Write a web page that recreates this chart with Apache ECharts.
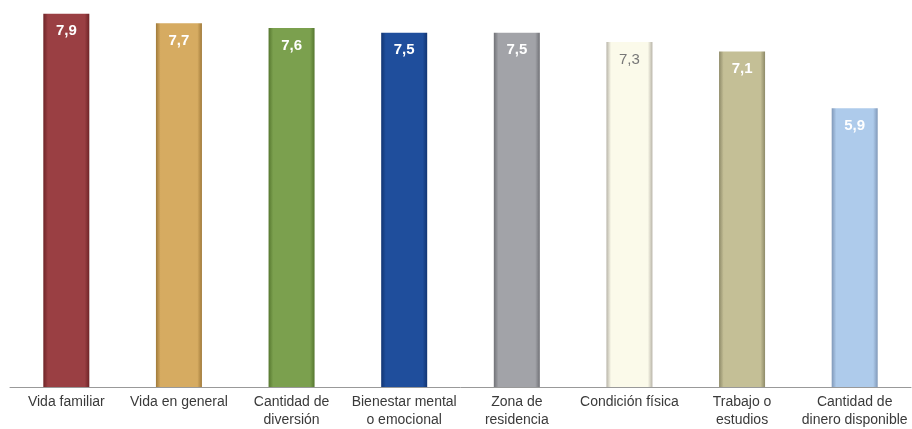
<!DOCTYPE html>
<html>
<head>
<meta charset="utf-8">
<script src="https://cdn.jsdelivr.net/npm/echarts@6/dist/echarts.min.js"></script>
<style>
html,body{margin:0;padding:0;background:#fff;}
#chart{width:912px;height:429px;}
</style>
</head>
<body>
<div id="chart"></div>
<script>
const categories = ["Vida familiar", "Vida en general", "Cantidad de\ndiversión", "Bienestar mental\no emocional", "Zona de\nresidencia", "Condición física", "Trabajo o\nestudios", "Cantidad de\ndinero disponible"];
const values = [7.9, 7.7, 7.6, 7.5, 7.5, 7.3, 7.1, 5.9];
const barColors = ["#9A3F43", "#D6AB61", "#7BA04E", "#1F4E9C", "#A2A3A8", "#FBFAEA", "#C4BF96", "#AECBEB"];
const edgeColors = ["#6E2427", "#A07A3A", "#56772F", "#123572", "#707176", "#B8B4A8", "#8E8A68", "#8098B8"];
const labelColors = ["#fff", "#fff", "#fff", "#fff", "#fff", "#777", "#fff", "#fff"];

const chart = echarts.init(document.getElementById('chart'));
const data = values.map((v, i) => ({
  value: v,
  itemStyle: {
    color: new echarts.graphic.LinearGradient(0, 0, 1, 0, [
      {offset: 0, color: edgeColors[i]},
      {offset: 0.1, color: barColors[i]},
      {offset: 0.9, color: barColors[i]},
      {offset: 1, color: edgeColors[i]}
    ])
  },
  label: {
    color: labelColors[i],
    fontWeight: i === 5 ? 'normal' : 'bold'
  }
}));
chart.setOption({
  animation: false,
  grid: {left: 10, right: 1, top: 9, bottom: 35},
  xAxis: {
    type: 'category',
    data: categories,
    axisLine: {lineStyle: {color: '#999', width: 1}},
    axisTick: {show: false},
    axisLabel: {
      interval: 0,
      color: '#3a3a3a',
      fontFamily: 'Liberation Sans',
      fontSize: 14,
      lineHeight: 18,
      margin: 6
    }
  },
  yAxis: {
    type: 'value',
    min: 0,
    max: 8,
    show: false,
    splitLine: {show: false}
  },
  series: [{
    type: 'bar',
    data: data,
    barWidth: 46,
    label: {
      show: true,
      position: 'insideTop',
      distance: 10,
      fontFamily: 'Liberation Sans',
      fontSize: 15,
      formatter: p => String(p.value.toFixed(1)).replace('.', ',')
    }
  }]
});
</script>
</body>
</html>
